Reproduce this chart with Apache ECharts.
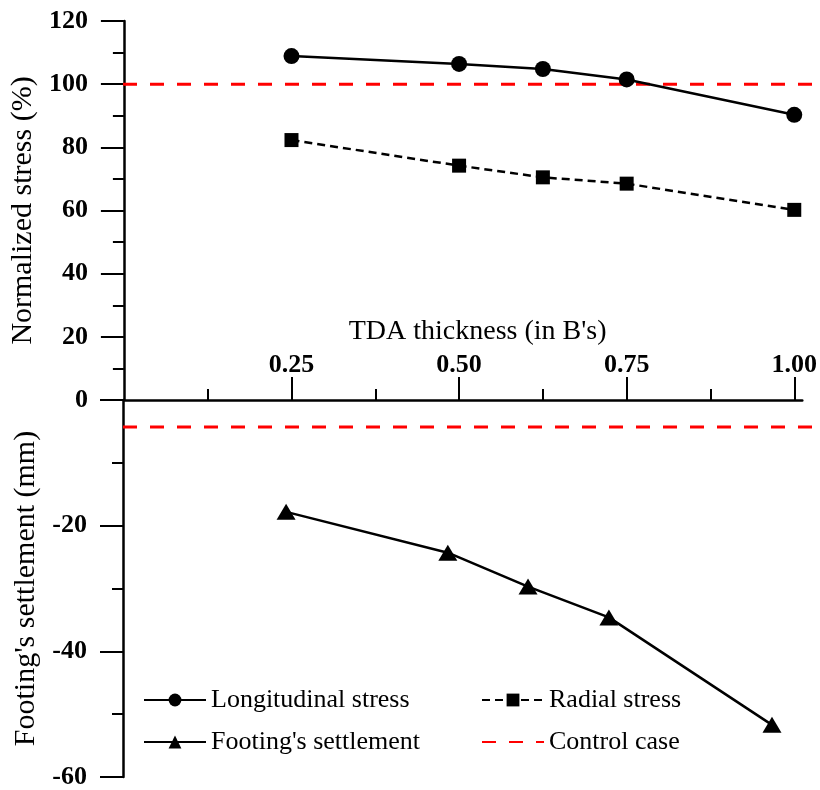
<!DOCTYPE html>
<html>
<head>
<meta charset="utf-8">
<script src="https://cdn.jsdelivr.net/npm/echarts@6/dist/echarts.min.js"></script>
<style>
html,body{margin:0;padding:0;background:#fff;}
#chart{width:820px;height:790px;}
</style>
</head>
<body>
<div id="chart"></div>
<script>
// ---- data ----
const thicknessStress = [0.25, 0.5, 0.625, 0.75, 1.0];
const longitudinalStress = [108.9, 106.4, 104.8, 101.5, 90.3];
const radialStress = [82.3, 74.2, 70.5, 68.5, 60.2];
const thicknessSettlement = [0.242, 0.482, 0.601, 0.721, 0.963];
const footingSettlement = [-17.8, -24.3, -29.7, -34.6, -51.7];
const controlStress = 100;
const controlSettlement = -4.3;
const controlSpan = [0, 1.034];
const xMajorTicks = [0.25, 0.5, 0.75, 1.0];
const xMinorTicks = [0.125, 0.375, 0.625, 0.875];
const xTickLabels = ['0.25', '0.50', '0.75', '1.00'];

const FONT = 'Liberation Serif';
const pair = (xs, ys) => xs.map((x, i) => [x, ys[i]]);

const chart = echarts.init(document.getElementById('chart'));
const tickLabel = {fontFamily: FONT, fontWeight: 'bold', fontSize: 26, color: '#000'};
const axisLineStyle = {color: '#000', width: 2.5};
const legendText = {fontFamily: FONT, fontSize: 26, color: '#000', lineHeight: 30};

chart.setOption({
  backgroundColor: '#fff',
  animation: false,
  grid: [
    {left: 123, top: 21, width: 682, height: 379},
    {left: 123, top: 400, width: 682, height: 378},
    {left: 123, top: 21, width: 697, height: 379},
    {left: 123, top: 400, width: 697, height: 378}
  ],
  xAxis: [
    {
      type: 'value', gridIndex: 0, min: 0, max: 1.012, position: 'bottom',
      name: "TDA thickness (in B's)", nameLocation: 'middle', nameGap: -82,
      nameTextStyle: {fontFamily: FONT, fontSize: 28, color: '#000', padding: [0, 0, 0, 29]},
      axisLine: {show: true, onZero: false, lineStyle: axisLineStyle},
      axisTick: {show: true, inside: true, length: 23, customValues: xMajorTicks, lineStyle: {color: '#000', width: 2}},
      axisLabel: {show: true, inside: true, margin: 22, customValues: xMajorTicks,
        formatter: v => xTickLabels[xMajorTicks.indexOf(v)] ?? '', ...tickLabel},
      splitLine: {show: false}
    },
    {
      type: 'value', gridIndex: 0, min: 0, max: 1.012, position: 'bottom', offset: 0,
      axisLine: {show: false, onZero: false},
      axisTick: {show: true, inside: true, length: 11, customValues: xMinorTicks, lineStyle: {color: '#000', width: 2}},
      axisLabel: {show: false},
      splitLine: {show: false}
    },
    {type: 'value', gridIndex: 1, min: 0, max: 1.012, show: false},
    {type: 'value', gridIndex: 2, min: 0, max: 1.034, show: false},
    {type: 'value', gridIndex: 3, min: 0, max: 1.034, show: false}
  ],
  yAxis: [
    {
      type: 'value', gridIndex: 0, min: 0, max: 120, interval: 20,
      name: 'Normalized stress (%)', nameLocation: 'middle', nameGap: 84, nameRotate: 90,
      nameTextStyle: {fontFamily: FONT, fontSize: 30, color: '#000'},
      axisLine: {show: true, lineStyle: axisLineStyle},
      axisTick: {show: true, length: 23, lineStyle: {color: '#000', width: 2}},
      minorTick: {show: true, splitNumber: 2, length: 11, lineStyle: {color: '#000', width: 2}},
      axisLabel: {margin: 36, ...tickLabel},
      splitLine: {show: false}
    },
    {
      type: 'value', gridIndex: 1, min: -60, max: 0, interval: 20,
      name: "Footing's settlement (mm)", nameLocation: 'middle', nameGap: 80, nameRotate: 90,
      nameTextStyle: {fontFamily: FONT, fontSize: 30, color: '#000'},
      axisLine: {show: true, lineStyle: axisLineStyle},
      axisTick: {show: true, length: 23, lineStyle: {color: '#000', width: 2}},
      minorTick: {show: true, splitNumber: 2, length: 11, lineStyle: {color: '#000', width: 2}},
      axisLabel: {margin: 36, showMaxLabel: false, ...tickLabel},
      splitLine: {show: false}
    },
    {type: 'value', gridIndex: 2, min: 0, max: 120, show: false},
    {type: 'value', gridIndex: 3, min: -60, max: 0, show: false}
  ],
  legend: [
    {
      orient: 'vertical', left: 138, top: 680, itemWidth: 62, itemHeight: 16, itemGap: 12,
      data: ['Longitudinal stress', "Footing's settlement"],
      textStyle: legendText
    },
    {
      orient: 'vertical', left: 476, top: 680, itemWidth: 62, itemHeight: 16, itemGap: 12,
      data: ['Radial stress', {name: 'Control case', itemStyle: {opacity: 0}}],
      textStyle: legendText
    }
  ],
  series: [
    {
      name: 'Control case', type: 'line', xAxisIndex: 3, yAxisIndex: 2,
      data: pair(controlSpan, [controlStress, controlStress]), symbol: 'none',
      lineStyle: {color: '#ff0000', width: 3, type: [14, 13]}, itemStyle: {color: '#ff0000'}, z: 1
    },
    {
      name: 'Control case', type: 'line', xAxisIndex: 4, yAxisIndex: 3,
      data: pair(controlSpan, [controlSettlement, controlSettlement]), symbol: 'none',
      lineStyle: {color: '#ff0000', width: 3, type: [14, 13]}, itemStyle: {color: '#ff0000'}, z: 1
    },
    {
      name: 'Longitudinal stress', type: 'line', xAxisIndex: 0, yAxisIndex: 0,
      data: pair(thicknessStress, longitudinalStress), symbol: 'circle', symbolSize: 16,
      lineStyle: {color: '#000', width: 2.5}, itemStyle: {color: '#000'}, z: 3
    },
    {
      name: 'Radial stress', type: 'line', xAxisIndex: 0, yAxisIndex: 0,
      data: pair(thicknessStress, radialStress), symbol: 'rect', symbolSize: 14,
      lineStyle: {color: '#000', width: 2.5, type: [8, 5]}, itemStyle: {color: '#000'}, z: 3
    },
    {
      name: "Footing's settlement", type: 'line', xAxisIndex: 2, yAxisIndex: 1,
      data: pair(thicknessSettlement, footingSettlement), symbol: 'triangle', symbolSize: [19, 16],
      lineStyle: {color: '#000', width: 2.5}, itemStyle: {color: '#000'}, z: 3
    }
  ]
});
</script>
</body>
</html>
